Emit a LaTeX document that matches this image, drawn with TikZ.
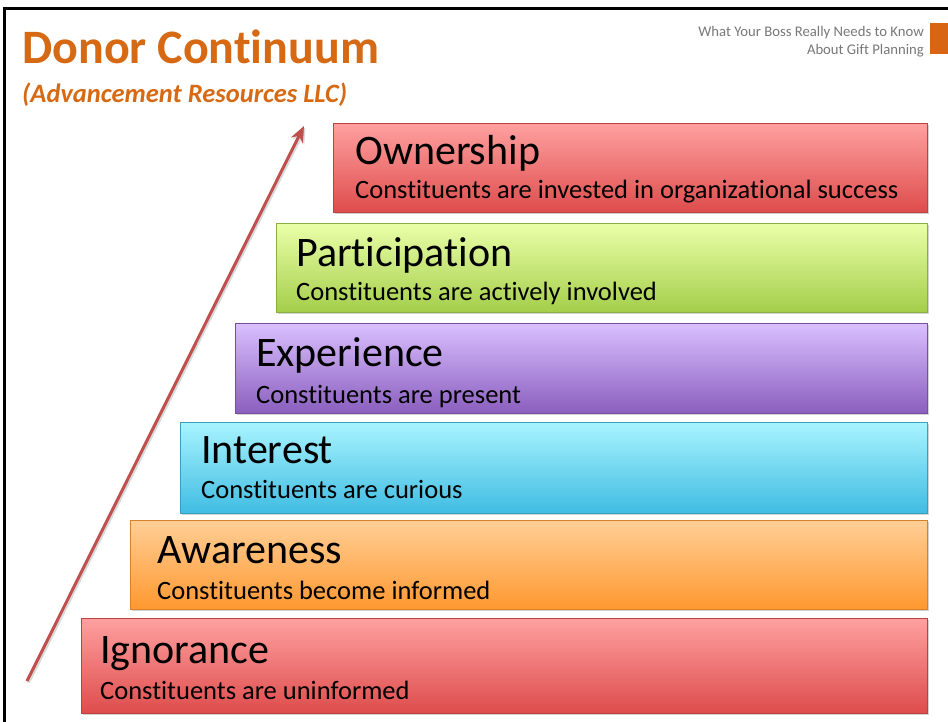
\documentclass[tikz,border=0pt]{standalone}
\usepackage{fontspec}
\setmainfont{Carlito}[Ligatures=NoCommon]
\usetikzlibrary{shadows,arrows.meta}
\definecolor{titleorange}{RGB}{214,106,20}
\definecolor{hdrgray}{RGB}{120,120,120}
\definecolor{arrowred}{RGB}{192,80,77}
\definecolor{redtop}{RGB}{255,160,160}
\definecolor{redbot}{RGB}{222,76,76}
\definecolor{orgtop}{RGB}{255,207,150}
\definecolor{orgbot}{RGB}{255,152,48}
\definecolor{cyantop}{RGB}{168,244,255}
\definecolor{cyanbot}{RGB}{64,188,226}
\definecolor{purtop}{RGB}{218,192,255}
\definecolor{purbot}{RGB}{138,94,190}
\definecolor{grntop}{RGB}{234,255,168}
\definecolor{grnbot}{RGB}{164,206,74}
\tikzset{
  stepbox/.style={rectangle, anchor=north west, inner sep=0pt, line width=0.6pt,
    drop shadow={shadow xshift=1.5pt, shadow yshift=-2pt, opacity=0.35}},
  redbox/.style={stepbox, top color=redtop, bottom color=redbot, draw=redbot!85!black},
  orgbox/.style={stepbox, top color=orgtop, bottom color=orgbot, draw=orgbot!85!black},
  cyanbox/.style={stepbox, top color=cyantop, bottom color=cyanbot, draw=cyanbot!85!black},
  purbox/.style={stepbox, top color=purtop, bottom color=purbot, draw=purbot!85!black},
  grnbox/.style={stepbox, top color=grntop, bottom color=grnbot, draw=grnbot!85!black},
  headtxt/.style={anchor=base west, inner sep=0pt, font=\fontsize{42}{46}\selectfont},
  subtxt/.style={anchor=base west, inner sep=0pt, font=\fontsize{26.5}{29}\selectfont},
  hdr/.style={anchor=base east, inner sep=0pt, text=hdrgray, font=\fontsize{14.7}{16}\selectfont},
}
\begin{document}
\begin{tikzpicture}[x=1pt,y=-1pt]
\useasboundingbox (0,0) rectangle (948,722);
\fill[white] (0,0) rectangle (948,722);
% frame
\draw[line width=3pt] (4.5,722) -- (4.5,8.5) -- (948,8.5);
% header
\node[hdr] (h1) at (924,37) {What Your Boss Really Needs to Know};
\node[hdr] (h2) at (924,55) {About Gift Planning};
\fill[titleorange!95!red] (930,23) rectangle (948,54);
% title
\node[anchor=base west, inner sep=0pt, text=titleorange, font=\fontsize{48}{52}\selectfont\bfseries] (title) at (22,64) {Donor Continuum};
\node[anchor=base west, inner sep=0pt, text=titleorange, font=\fontsize{26.5}{30}\selectfont\bfseries\itshape] (subtitle) at (22,103) {(Advancement Resources LLC)};
% arrow
\coordinate (atail) at (27,681);
\coordinate (ahead) at (304,126);
\draw[arrowred, line width=3pt, -{Stealth[length=16pt,width=13pt,inset=5pt]},
  preaction={draw=black, opacity=0.15, line width=3pt, transform canvas={xshift=1.5pt,yshift=-1.5pt}}] (atail) -- (ahead);
% boxes
\node[redbox, minimum width=594pt, minimum height=89pt] (own) at (333,123) {};
\node[grnbox, minimum width=651pt, minimum height=89pt] (par) at (276,223) {};
\node[purbox, minimum width=692pt, minimum height=90pt] (exp) at (235,323) {};
\node[cyanbox, minimum width=747pt, minimum height=91pt] (int) at (180,422) {};
\node[orgbox, minimum width=797pt, minimum height=89pt] (awa) at (130,520) {};
\node[redbox, minimum width=846pt, minimum height=95pt] (ign) at (81,618) {};
% texts
\node[headtxt] (ownh) at (355,165) {Ownership};
\node[subtxt] (owns) at (355,199) {Constituents are invested in organizational success};
\node[headtxt] (parh) at (296,266) {Participation};
\node[subtxt] (pars) at (296,301) {Constituents are actively involved};
\node[headtxt] (exph) at (256,366) {Experience};
\node[subtxt] (exps) at (256,403) {Constituents are present};
\node[headtxt] (inth) at (201,463) {Interest};
\node[subtxt] (ints) at (201,498) {Constituents are curious};
\node[headtxt] (awah) at (157,563) {Awareness};
\node[subtxt] (awas) at (157,599) {Constituents become informed};
\node[headtxt] (ignh) at (100,663) {Ignorance};
\node[subtxt] (igns) at (100,699) {Constituents are uninformed};
\end{tikzpicture}
\end{document}
